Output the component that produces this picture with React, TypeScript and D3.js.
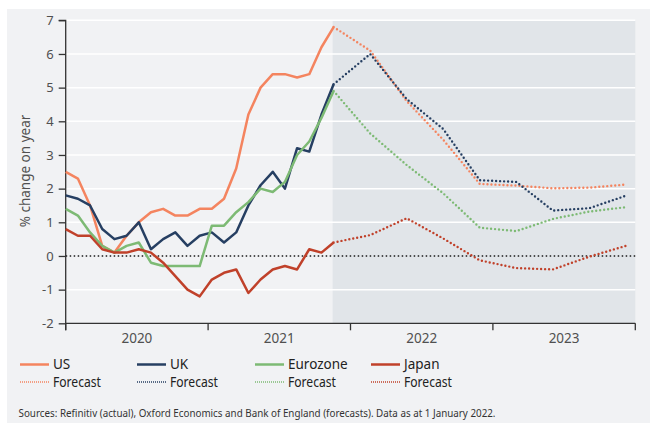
import React, { useEffect, useRef } from "react";
import * as d3 from "d3";

// ---- Data (monthly actuals Jan 2020 – Nov 2021, month index 0..22) ----
const actualMonths = d3.range(0, 23);
const usActual = [2.5, 2.3, 1.5, 0.3, 0.1, 0.6, 1.0, 1.3, 1.4, 1.2, 1.2, 1.4, 1.4, 1.7, 2.6, 4.2, 5.0, 5.4, 5.4, 5.3, 5.4, 6.2, 6.8];
const ukActual = [1.8, 1.7, 1.5, 0.8, 0.5, 0.6, 1.0, 0.2, 0.5, 0.7, 0.3, 0.6, 0.7, 0.4, 0.7, 1.5, 2.1, 2.5, 2.0, 3.2, 3.1, 4.2, 5.1];
const ezActual = [1.4, 1.2, 0.7, 0.3, 0.1, 0.3, 0.4, -0.2, -0.3, -0.3, -0.3, -0.3, 0.9, 0.9, 1.3, 1.6, 2.0, 1.9, 2.2, 3.0, 3.4, 4.1, 4.9];
const jpActual = [0.8, 0.6, 0.6, 0.2, 0.1, 0.1, 0.2, 0.1, -0.2, -0.6, -1.0, -1.2, -0.7, -0.5, -0.4, -1.1, -0.7, -0.4, -0.3, -0.4, 0.2, 0.1, 0.4];

// ---- Forecasts (quarterly steps from Nov 2021) ----
const forecastMonths = [22, 25, 28, 31, 34, 37, 40, 43, 46];
const usForecast = [6.8, 6.1, 4.6, 3.45, 2.14, 2.09, 2.01, 2.03, 2.12];
const ukForecast = [5.1, 6.0, 4.66, 3.77, 2.25, 2.2, 1.35, 1.42, 1.79];
const ezForecast = [4.9, 3.64, 2.7, 1.86, 0.84, 0.74, 1.1, 1.32, 1.45];
const jpForecast = [0.4, 0.62, 1.12, 0.52, -0.13, -0.36, -0.4, -0.02, 0.3];

const seriesNames = ["US", "UK", "Eurozone", "Japan"];
const seriesColors = ["#f4845f", "#263f62", "#7dba74", "#c0412a"];
const actuals = [usActual, ukActual, ezActual, jpActual];
const forecasts = [usForecast, ukForecast, ezForecast, jpForecast];

const yearLabels = ["2020", "2021", "2022", "2023"];
const yTicks = [-2, -1, 0, 1, 2, 3, 4, 5, 6, 7];
const xDomainEnd = 46.77;
const forecastStart = 22;

const yTitle = "% change on year";
const sourceText = "Sources: Refinitiv (actual), Oxford Economics and Bank of England (forecasts). Data as at 1 January 2022.";

const FONT = "'Noto Sans', 'Open Sans', sans-serif";

export default function App() {
  const ref = useRef<SVGSVGElement>(null);

  useEffect(() => {
    const svg = d3.select(ref.current);
    svg.selectAll("*").remove();

    const W = 650, H = 423;
    const x = d3.scaleLinear().domain([0, xDomainEnd]).range([65.7, 635.3]);
    const y = d3.scaleLinear().domain([-2, 7]).range([323.3, 20.3]);

    // panel background
    svg.append("rect").attr("x", 0).attr("y", 0).attr("width", W).attr("height", H).attr("fill", "#ffffff");
    svg.append("rect").attr("x", 7).attr("y", 9).attr("width", W - 7).attr("height", H - 9).attr("fill", "#f1f2f4");

    // forecast shading
    svg.append("rect")
      .attr("x", x(forecastStart) - 1).attr("y", y(7))
      .attr("width", x(xDomainEnd) - x(forecastStart) + 1)
      .attr("height", y(-2) - y(7))
      .attr("fill", "#e1e5e9");

    // gridlines
    svg.append("g").selectAll("line").data(yTicks.filter(t => t > -2 && t !== 0)).join("line")
      .attr("x1", x(0)).attr("x2", x(xDomainEnd))
      .attr("y1", d => y(d)).attr("y2", d => y(d))
      .attr("stroke", "#ffffff").attr("stroke-width", 1.5);

    // zero line
    svg.append("line")
      .attr("x1", x(0)).attr("x2", x(xDomainEnd) + 1.5)
      .attr("y1", y(0)).attr("y2", y(0))
      .attr("stroke", "#1a1a1a").attr("stroke-width", 1.4)
      .attr("stroke-dasharray", "1.5,2.5");

    // y axis
    const yAxis = d3.axisLeft(y).tickValues(yTicks).tickSize(7).tickPadding(5).tickFormat(d3.format("d"));
    const gy = svg.append("g").attr("transform", `translate(${x(0)},0)`).call(yAxis);
    gy.select(".domain").attr("stroke", "#333").attr("stroke-width", 1.3).attr("d", `M-7,${y(7)}H0V${y(-2) + 7}`);
    gy.selectAll(".tick line").attr("stroke", "#333").attr("stroke-width", 1.3);
    gy.selectAll(".tick text").attr("font-family", FONT).attr("font-size", 13).attr("fill", "#505050")
      .text((d: any) => (d < 0 ? "-" + Math.abs(d) : String(d)));

    // x axis (year boundaries)
    const yearTicks = d3.range(0, 5).map(i => (xDomainEnd / 4) * i);
    const gx = svg.append("g").attr("transform", `translate(0,${y(-2)})`);
    gx.append("line").attr("x1", x(0)).attr("x2", x(xDomainEnd)).attr("y1", 0).attr("y2", 0)
      .attr("stroke", "#333").attr("stroke-width", 1.3);
    gx.selectAll("line.t").data(yearTicks).join("line").attr("class", "t")
      .attr("x1", d => x(d)).attr("x2", d => x(d)).attr("y1", 0).attr("y2", 7)
      .attr("stroke", "#333").attr("stroke-width", 1.3);
    gx.selectAll("text").data(yearLabels).join("text")
      .attr("x", (d, i) => x((xDomainEnd / 4) * (i + 0.5)))
      .attr("y", 20)
      .attr("text-anchor", "middle")
      .attr("font-family", FONT).attr("font-size", 13.5).attr("fill", "#505050")
      .text(d => d);

    // y title
    svg.append("text")
      .attr("transform", `translate(30,171) rotate(-90)`)
      .attr("text-anchor", "middle")
      .attr("font-family", FONT).attr("font-size", 13.5).attr("fill", "#505050")
      .text(yTitle);

    // lines
    const lineGen = d3.line<[number, number]>().x(d => x(d[0])).y(d => y(d[1]));
    forecasts.forEach((f, i) => {
      svg.append("path")
        .attr("d", lineGen(forecastMonths.map((m, j) => [m, f[j]] as [number, number])))
        .attr("fill", "none").attr("stroke", seriesColors[i]).attr("stroke-width", 2.4)
        .attr("stroke-linecap", "round").attr("stroke-dasharray", "0,4");
    });
    actuals.forEach((a, i) => {
      svg.append("path")
        .attr("d", lineGen(actualMonths.map((m, j) => [m, a[j]] as [number, number])))
        .attr("fill", "none").attr("stroke", seriesColors[i]).attr("stroke-width", 2.5)
        .attr("stroke-linejoin", "round");
    });

    // legend
    const legendX = [20, 137, 255, 371];
    const lg = svg.append("g");
    seriesNames.forEach((name, i) => {
      const lx = legendX[i];
      lg.append("line").attr("x1", lx).attr("x2", lx + 29).attr("y1", 364.5).attr("y2", 364.5)
        .attr("stroke", seriesColors[i]).attr("stroke-width", 2.5);
      lg.append("text").attr("x", lx + 33).attr("y", 369).attr("font-family", FONT).attr("font-size", 13.5)
        .attr("fill", "#222").text(name);
      lg.append("line").attr("x1", lx).attr("x2", lx + 29).attr("y1", 382).attr("y2", 382)
        .attr("stroke", seriesColors[i]).attr("stroke-width", 1.5).attr("stroke-dasharray", "1,1");
      lg.append("text").attr("x", lx + 33).attr("y", 386.5).attr("font-family", FONT).attr("font-size", 13.5)
        .attr("fill", "#222").attr("textLength", 48).attr("lengthAdjust", "spacingAndGlyphs").text("Forecast");
    });

    // source
    svg.append("text").attr("x", 18.5).attr("y", 416.5)
      .attr("font-family", FONT).attr("font-size", 11.5).attr("fill", "#333")
      .attr("textLength", 477).attr("lengthAdjust", "spacingAndGlyphs")
      .text(sourceText);
  }, []);

  return (
    <svg ref={ref} width={650} height={423} style={{ position: "absolute", left: 0, top: 0 }} />
  );
}
